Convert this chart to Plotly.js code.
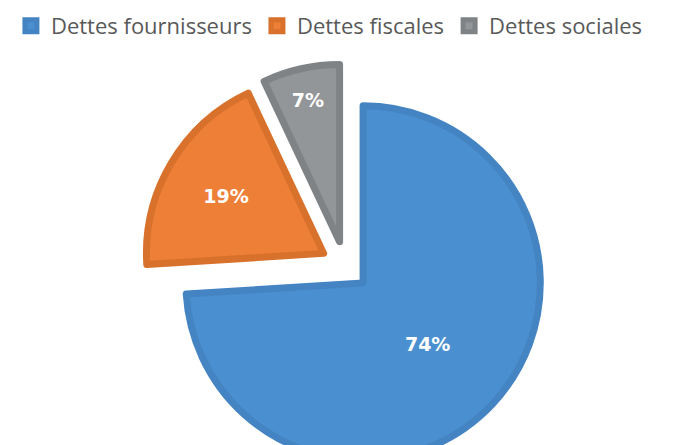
<!DOCTYPE html>
<html>
<head>
<meta charset="utf-8">
<script src="https://cdn.plot.ly/plotly-3.0.1.min.js"></script>
<style>
html,body{margin:0;padding:0;overflow:hidden;background:#fff;}
#chart{width:683px;height:470px;}
</style>
</head>
<body>
<div id="chart"></div>
<script>
const categories = ["Dettes fournisseurs", "Dettes fiscales", "Dettes sociales"];
const values = [74, 19, 7];
const fillColors = ["#4a90d0", "#ee7f37", "#939698"];
const lineColors = ["#4584c2", "#d8712c", "#808385"];

const H = 470, TOP = 47;
const plotH = H - TOP;

const trace = {
  type: "pie",
  labels: categories,
  values: values,
  sort: false,
  direction: "clockwise",
  rotation: 0,
  pull: [0.14, 0.14, 0.14],
  marker: {colors: fillColors, line: {color: lineColors, width: 7}},
  textinfo: "percent",
  texttemplate: "%{percent:.0%}",
  textposition: "inside",
  insidetextorientation: "horizontal",
  insidetextfont: {family: "DejaVu Sans, sans-serif", size: 19, color: "#ffffff", weight: "bold"},
  hoverinfo: "label+percent",
  domain: {x: [142/683, 548/683], y: [(H - 468)/plotH, (H - 64)/plotH]}
};

const layout = {
  width: 683,
  height: H,
  margin: {l: 0, r: 0, t: TOP, b: 0},
  paper_bgcolor: "#ffffff",
  showlegend: true,
  legend: {
    orientation: "h",
    x: 0.016, xanchor: "left",
    y: 1, yanchor: "bottom",
    font: {family: "Open Sans, sans-serif", size: 22, color: "#595959"},
    traceorder: "normal"
  }
};

Plotly.newPlot("chart", [trace], layout, {displayModeBar: false, staticPlot: true});
</script>
</body>
</html>
